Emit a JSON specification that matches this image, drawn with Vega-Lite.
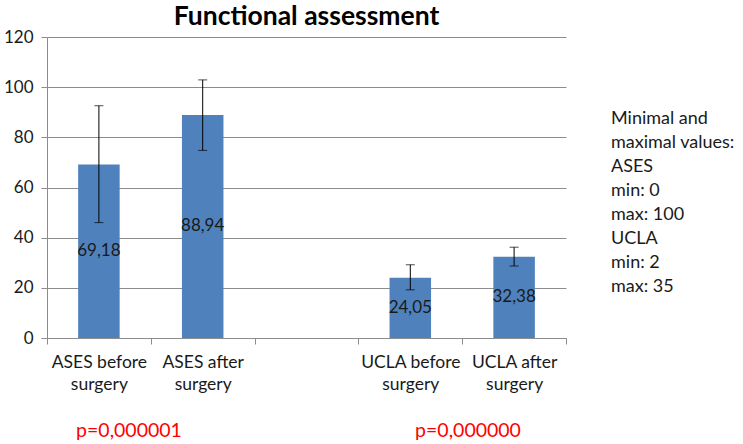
{
  "$schema": "https://vega.github.io/schema/vega-lite/v6.json",
  "width": 519,
  "height": 301,
  "autosize": "none",
  "padding": {"left": 47, "top": 37, "right": 177, "bottom": 106},
  "background": "white",
  "config": {"font": "Lato", "view": {"stroke": null}},
  "title": {"text": "Functional assessment", "font": "Lato", "fontSize": 26.5, "fontWeight": "bold", "color": "#000000", "anchor": "middle", "frame": "group", "offset": -2},
  "datasets": {
    "scores": [
      {"measure": "ASES before surgery", "mean": 69.18, "lo": 46.0, "hi": 92.6, "label": "69,18"},
      {"measure": "ASES after surgery", "mean": 88.94, "lo": 74.8, "hi": 102.9, "label": "88,94"},
      {"measure": "UCLA before surgery", "mean": 24.05, "lo": 19.2, "hi": 29.2, "label": "24,05"},
      {"measure": "UCLA after surgery", "mean": 32.38, "lo": 28.7, "hi": 36.2, "label": "32,38"}
    ],
    "notes": [
      {"line": "Minimal and"},
      {"line": "maximal values:"},
      {"line": "ASES"},
      {"line": "min: 0"},
      {"line": "max: 100"},
      {"line": "UCLA"},
      {"line": "min: 2"},
      {"line": "max: 35"}
    ],
    "pvalues": [
      {"measure": "ASES before surgery", "p": "p=0,000001"},
      {"measure": "UCLA before surgery", "p": "p=0,000000"}
    ]
  },
  "encoding": {
    "x": {
      "field": "measure",
      "type": "nominal",
      "sort": null,
      "scale": {
        "domain": ["ASES before surgery", "ASES after surgery", " ", "UCLA before surgery", "UCLA after surgery"],
        "paddingInner": 0,
        "paddingOuter": 0
      },
      "axis": {
        "title": null,
        "labelAngle": 0,
        "labelExpr": "(datum.value == null || datum.value == ' ') ? '' : [replace(datum.value, ' surgery', ''), 'surgery']",
        "labelFont": "Lato",
        "labelFontSize": 17.5,
        "labelColor": "#1a1a1a",
        "labelLineHeight": 22,
        "labelPadding": 9,
        "labelBaseline": "top",
        "tickBand": "extent",
        "tickSize": 6,
        "tickColor": "#8c8c8c",
        "domainColor": "#8c8c8c",
        "grid": false
      }
    },
    "y": {
      "type": "quantitative",
      "scale": {"domain": [0, 120], "nice": false},
      "axis": {
        "title": null,
        "values": [0, 20, 40, 60, 80, 100, 120],
        "labelFont": "Lato",
        "labelFontSize": 17,
        "labelColor": "#1a1a1a",
        "labelPadding": 8,
        "tickSize": 6,
        "tickColor": "#8c8c8c",
        "domainColor": "#8c8c8c",
        "grid": true,
        "gridColor": "#8c8c8c"
      }
    }
  },
  "layer": [
    {
      "data": {"name": "scores"},
      "mark": {"type": "bar", "color": "#4F81BD", "width": {"band": 0.4}},
      "encoding": {"y": {"field": "mean", "type": "quantitative"}}
    },
    {
      "data": {"name": "scores"},
      "mark": {"type": "rule", "color": "#000000", "strokeWidth": 1},
      "encoding": {
        "y": {"field": "lo", "type": "quantitative"},
        "y2": {"field": "hi"}
      }
    },
    {
      "data": {"name": "scores"},
      "mark": {"type": "tick", "color": "#000000", "size": 9, "thickness": 1, "orient": "horizontal"},
      "encoding": {"y": {"field": "lo", "type": "quantitative"}}
    },
    {
      "data": {"name": "scores"},
      "mark": {"type": "tick", "color": "#000000", "size": 9, "thickness": 1, "orient": "horizontal"},
      "encoding": {"y": {"field": "hi", "type": "quantitative"}}
    },
    {
      "data": {"name": "scores"},
      "transform": [{"calculate": "datum.mean / 2", "as": "mid"}],
      "mark": {"type": "text", "font": "Lato", "fontSize": 17, "color": "#1a1a1a", "baseline": "middle", "align": "center"},
      "encoding": {
        "y": {"field": "mid", "type": "quantitative"},
        "text": {"field": "label"}
      }
    },
    {
      "data": {"name": "pvalues"},
      "transform": [{"filter": "datum.measure == 'ASES before surgery'"}],
      "mark": {"type": "text", "font": "Lato", "fontSize": 19.5, "color": "#ff0000", "baseline": "middle", "align": "center"},
      "encoding": {
        "x": {"field": "measure", "type": "nominal", "bandPosition": 0.79},
        "y": {"datum": -37},
        "text": {"field": "p"}
      }
    },
    {
      "data": {"name": "pvalues"},
      "transform": [{"filter": "datum.measure == 'UCLA before surgery'"}],
      "mark": {"type": "text", "font": "Lato", "fontSize": 19.5, "color": "#ff0000", "baseline": "middle", "align": "center"},
      "encoding": {
        "x": {"field": "measure", "type": "nominal", "bandPosition": 1.056},
        "y": {"datum": -37},
        "text": {"field": "p"}
      }
    },
    {
      "data": {"name": "notes"},
      "mark": {"type": "text", "text": ""},
      "encoding": {
        "x": {"datum": "ASES before surgery"},
        "y": {"datum": 0},
        "color": {
          "field": "line",
          "type": "nominal",
          "sort": null,
          "scale": {
            "domain": ["Minimal and", "maximal values:", "ASES", "min: 0", "max: 100", "UCLA", "min: 2", "max: 35"],
            "range": ["#000000", "#000000", "#000000", "#000000", "#000000", "#000000", "#000000", "#000000"]
          },
          "legend": {
            "title": null,
            "orient": "none",
            "legendX": 546,
            "legendY": 73,
            "symbolSize": 0,
            "symbolStrokeWidth": 0,
            "symbolOpacity": 0,
            "labelOffset": 0,
            "labelFont": "Lato",
            "labelFontSize": 18,
            "labelColor": "#1a1a1a",
            "labelLimit": 200,
            "rowPadding": 6
          }
        }
      }
    }
  ]
}
